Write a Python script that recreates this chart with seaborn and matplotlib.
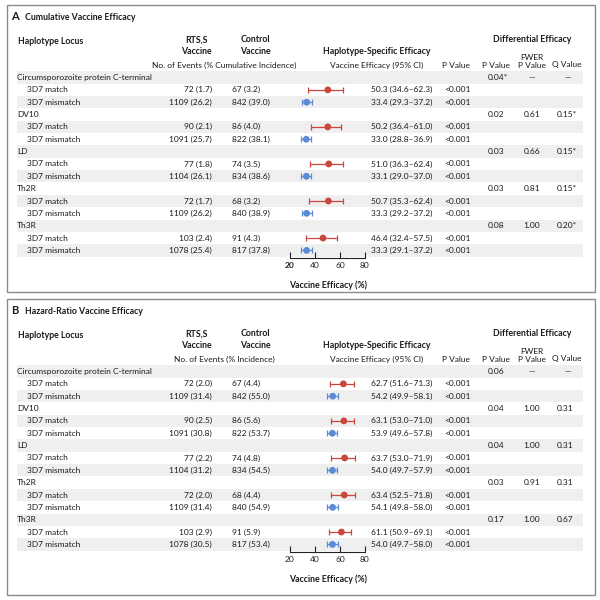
import matplotlib
matplotlib.use("Agg")
import matplotlib.pyplot as plt
import seaborn as sns
import pandas as pd
from matplotlib.patches import Rectangle

# ---------------- data ----------------
loci = ["Circumsporozoite protein C-terminal", "DV10", "LD", "Th2R", "Th3R"]
subgroups = ["3D7 match", "3D7 mismatch"]

rtss_events = [72, 1109, 90, 1091, 77, 1104, 72, 1109, 103, 1078]
ctrl_events = [67, 842, 86, 822, 74, 834, 68, 840, 91, 817]

# Panel A: cumulative
rtss_pct_A = [1.7, 26.2, 2.1, 25.7, 1.8, 26.1, 1.7, 26.2, 2.4, 25.4]
ctrl_pct_A = [3.2, 39.0, 4.0, 38.1, 3.5, 38.6, 3.2, 38.9, 4.3, 37.8]
ve_A = [50.3, 33.4, 50.2, 33.0, 51.0, 33.1, 50.7, 33.3, 46.4, 33.3]
lo_A = [34.6, 29.3, 36.4, 28.8, 36.3, 29.0, 35.3, 29.2, 32.4, 29.1]
hi_A = [62.3, 37.2, 61.0, 36.9, 62.4, 37.0, 62.4, 37.2, 57.5, 37.2]
diffp_A = ["0.04*", "0.02", "0.03", "0.03", "0.08"]
fwer_A = ["\u2014", "0.61", "0.66", "0.81", "1.00"]
q_A = ["\u2014", "0.15*", "0.15*", "0.15*", "0.20*"]

# Panel B: hazard ratio
rtss_pct_B = [2.0, 31.4, 2.5, 30.8, 2.2, 31.2, 2.0, 31.4, 2.9, 30.5]
ctrl_pct_B = [4.4, 55.0, 5.6, 53.7, 4.8, 54.5, 4.4, 54.9, 5.9, 53.4]
ve_B = [62.7, 54.2, 63.1, 53.9, 63.7, 54.0, 63.4, 54.1, 61.1, 54.0]
lo_B = [51.6, 49.9, 53.0, 49.6, 53.0, 49.7, 52.5, 49.8, 50.9, 49.7]
hi_B = [71.3, 58.1, 71.0, 57.8, 71.9, 57.9, 71.8, 58.0, 69.1, 58.0]
diffp_B = ["0.06", "0.04", "0.04", "0.03", "0.17"]
fwer_B = ["\u2014", "1.00", "1.00", "0.91", "1.00"]
q_B = ["\u2014", "0.31", "0.31", "0.31", "0.67"]

pval_text = "<0.001"
xticks = [20, 40, 60, 80]

# ---------------- style ----------------
sns.set_theme(style="white")
plt.rcParams['font.family'] = ['Lato', 'DejaVu Sans']

RED = "#c9473b"
BLUE = "#5b8bd3"
SHADE = "#efefef"
FS = 6.0
FB = 6.3
TXT = "#1a1a1a"

fig = plt.figure(figsize=(6, 6), dpi=100)
bg = fig.add_axes([0, 0, 1, 1])
bg.set_xlim(0, 600)
bg.set_ylim(600, 0)
bg.axis('off')

Y0 = 77.5
DY = 12.35


def panel(off, box_top, box_bot, letter, title, inc_label, rtss_pct, ctrl_pct,
          ve, lo, hi, diffp, fwer, qv, bold20):
    bg.add_patch(Rectangle((7, box_top), 588, box_bot - box_top, fill=False,
                           ec="#8a8a8a", lw=1.0))
    bg.text(11.5, 17 + off, letter, fontsize=8, fontweight='bold', va='center', color=TXT)
    bg.text(25, 17 + off, title, fontsize=FB, fontweight='bold', va='center', color=TXT)

    # headers
    bg.text(18, 42 + off, "Haplotype Locus", fontsize=FB, fontweight='bold', va='center', color=TXT)
    bg.text(196, 40 + off, "RTS,S", fontsize=FB, fontweight='bold', va='center', ha='center', color=TXT)
    bg.text(196, 51 + off, "Vaccine", fontsize=FB, fontweight='bold', va='center', ha='center', color=TXT)
    bg.text(255, 40 + off, "Control", fontsize=FB, fontweight='bold', va='center', ha='center', color=TXT)
    bg.text(255, 51 + off, "Vaccine", fontsize=FB, fontweight='bold', va='center', ha='center', color=TXT)
    bg.text(224, 65 + off, inc_label, fontsize=FS, va='center', ha='center', color=TXT)
    bg.text(377, 52 + off, "Haplotype-Specific Efficacy", fontsize=FB, fontweight='bold',
            va='center', ha='center', color=TXT)
    bg.text(377, 65 + off, "Vaccine Efficacy (95% CI)", fontsize=FS, va='center', ha='center', color=TXT)
    bg.text(456, 65 + off, "P Value", fontsize=FS, va='center', ha='center', color=TXT)
    bg.text(532, 40 + off, "Differential Efficacy", fontsize=FB, fontweight='bold',
            va='center', ha='center', color=TXT)
    bg.text(496, 65 + off, "P Value", fontsize=FS, va='center', ha='center', color=TXT)
    bg.text(532, 57.5 + off, "FWER", fontsize=FS, va='center', ha='center', color=TXT)
    bg.text(532, 65 + off, "P Value", fontsize=FS, va='center', ha='center', color=TXT)
    bg.text(567, 65 + off, "Q Value", fontsize=FS, va='center', ha='center', color=TXT)

    y0 = Y0 + off
    # shading
    for i in range(0, 15, 2):
        bg.add_patch(Rectangle((17, y0 + i * DY - DY / 2), 566, DY, color=SHADE, lw=0, zorder=0))

    for k, locus in enumerate(loci):
        r = 3 * k
        yl = y0 + r * DY
        bg.text(17, yl, locus, fontsize=FS, va='center', color=TXT)
        bg.text(488, yl, diffp[k], fontsize=FS, va='center', ha='left', color=TXT)
        bg.text(532, yl, fwer[k], fontsize=FS, va='center', ha='center', color=TXT)
        if qv[k] == "\u2014":
            bg.text(568, yl, qv[k], fontsize=FS, va='center', ha='center', color=TXT)
        else:
            bg.text(557, yl, qv[k], fontsize=FS, va='center', ha='left', color=TXT)
        for j, sg in enumerate(subgroups):
            idx = 2 * k + j
            yy = y0 + (r + 1 + j) * DY
            bg.text(27, yy, sg, fontsize=FS, va='center', color=TXT)
            bg.text(212, yy, f"{rtss_events[idx]} ({rtss_pct[idx]:.1f})", fontsize=FS,
                    va='center', ha='right', color=TXT)
            bg.text(232, yy, f"{ctrl_events[idx]} ({ctrl_pct[idx]:.1f})", fontsize=FS,
                    va='center', ha='left', color=TXT)
            bg.text(432, yy, f"{ve[idx]:.1f} ({lo[idx]:.1f}\u2013{hi[idx]:.1f})", fontsize=FS,
                    va='center', ha='right', color=TXT)
            bg.text(444, yy, pval_text, fontsize=FS, va='center', ha='left', color=TXT)

    # forest plot
    axis_y = 258 + off
    top_y = 70 + off
    ax = fig.add_axes([280 / 600, 1 - axis_y / 600, 100 / 600, (axis_y - top_y) / 600])
    ax.set_facecolor('none')
    rows = []
    types = []
    for k in range(len(loci)):
        for j, sg in enumerate(subgroups):
            rows.append(3 * k + 1 + j)
            types.append(sg)
    df = pd.DataFrame({"ve": ve, "lo": lo, "hi": hi, "row": rows, "type": types})
    pal = {"3D7 match": RED, "3D7 mismatch": BLUE}
    for sg, col in pal.items():
        sub = df[df["type"] == sg]
        ax.errorbar(sub["ve"], sub["row"], xerr=[sub["ve"] - sub["lo"], sub["hi"] - sub["ve"]],
                    fmt='none', ecolor=col, elinewidth=0.9, capsize=2.2, capthick=0.9, zorder=2)
    sns.scatterplot(data=df, x="ve", y="row", hue="type", palette=pal, s=24,
                    edgecolor='none', legend=False, ax=ax, zorder=3)
    ax.set_xlim(12, 92)
    ax.set_ylim((axis_y - y0) / DY, (top_y - y0) / DY)
    for s in ['top', 'right', 'left']:
        ax.spines[s].set_visible(False)
    ax.spines['bottom'].set_bounds(20, 80)
    ax.spines['bottom'].set_color('#222222')
    ax.spines['bottom'].set_linewidth(0.8)
    ax.set_yticks([])
    ax.set_xticks(xticks)
    ax.set_xticklabels([str(t) for t in xticks])
    ax.tick_params(axis='x', bottom=True, direction='in', length=4, width=0.8,
                   labelsize=FS, pad=3, colors='#222222')
    if bold20:
        ax.get_xticklabels()[0].set_fontweight('bold')
    ax.set_xlabel("")
    ax.set_ylabel("")
    bg.text(328, 285 + off, "Vaccine Efficacy (%)", fontsize=FB, fontweight='bold',
            va='center', ha='center', color=TXT)


panel(0, 5, 292, "A", "Cumulative Vaccine Efficacy", "No. of Events (% Cumulative Incidence)",
      rtss_pct_A, ctrl_pct_A, ve_A, lo_A, hi_A, diffp_A, fwer_A, q_A, True)
panel(294, 299, 595, "B", "Hazard-Ratio Vaccine Efficacy", "No. of Events (% Incidence)",
      rtss_pct_B, ctrl_pct_B, ve_B, lo_B, hi_B, diffp_B, fwer_B, q_B, False)

fig.savefig("out.png", dpi=100)
